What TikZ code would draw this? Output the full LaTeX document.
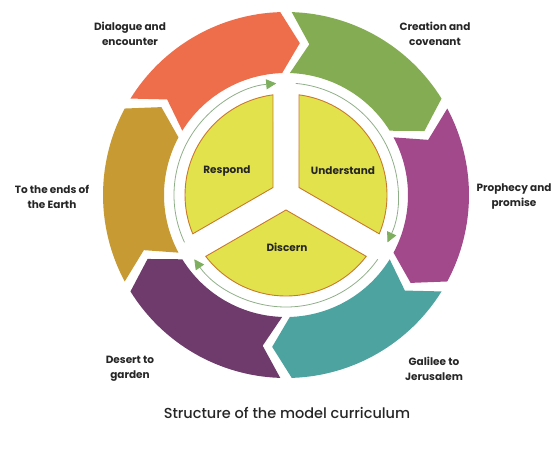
\documentclass[tikz,border=0pt]{standalone}
\usepackage{fontspec}
\setmainfont{Poppins}
\newfontfamily\captionfont{Poppins Medium}
\usetikzlibrary{arrows.meta}
\definecolor{segorange}{HTML}{EE6D4B}
\definecolor{seggreen}{HTML}{84AC52}
\definecolor{segplum}{HTML}{A2498B}
\definecolor{segteal}{HTML}{4CA3A0}
\definecolor{segviolet}{HTML}{6E3B6C}
\definecolor{seggold}{HTML}{C79A33}
\definecolor{pieyellow}{HTML}{E2E34C}
\definecolor{pieedge}{HTML}{C9782C}
\definecolor{cyclegreen}{HTML}{7DAF5E}
\definecolor{cycleline}{HTML}{8FAF88}
\begin{document}
\begin{tikzpicture}[x=1pt, y=1pt,
  lbl/.style={align=center, font=\bfseries\fontsize{10.5}{15}\selectfont, text=black!85},
  sector/.style={fill=pieyellow, draw=pieedge, line width=0.9pt},
  cycarrow/.style={draw=cycleline, line width=0.8pt, -{Triangle[length=10pt, width=10pt, color=cyclegreen, fill=cyclegreen]}}]
\useasboundingbox (-286,-253) rectangle (267,195);
% outer ring of chevrons
\fill[seggreen] (88.2:183) arc[start angle=88.2, end angle=31.8, radius=183] -- (24.8:152.5) -- (31.8:122) arc[start angle=31.8, end angle=88.2, radius=122] -- (81.2:152.5) -- cycle;
\fill[segplum] (28.2:183) arc[start angle=28.2, end angle=-28.2, radius=183] -- (-35.2:152.5) -- (-28.2:122) arc[start angle=-28.2, end angle=28.2, radius=122] -- (21.2:152.5) -- cycle;
\fill[segteal] (-31.8:183) arc[start angle=-31.8, end angle=-88.2, radius=183] -- (-95.2:152.5) -- (-88.2:122) arc[start angle=-88.2, end angle=-31.8, radius=122] -- (-38.8:152.5) -- cycle;
\fill[segviolet] (-91.8:183) arc[start angle=-91.8, end angle=-148.2, radius=183] -- (-155.2:152.5) -- (-148.2:122) arc[start angle=-148.2, end angle=-91.8, radius=122] -- (-98.8:152.5) -- cycle;
\fill[seggold] (-151.8:183) arc[start angle=-151.8, end angle=-208.2, radius=183] -- (-215.2:152.5) -- (-208.2:122) arc[start angle=-208.2, end angle=-151.8, radius=122] -- (-158.8:152.5) -- cycle;
\fill[segorange] (148.2:183) arc[start angle=148.2, end angle=91.8, radius=183] -- (84.8:152.5) -- (91.8:122) arc[start angle=91.8, end angle=148.2, radius=122] -- (141.2:152.5) -- cycle;
% cycle arrows
\draw[cycarrow] (85:112) arc[start angle=85, end angle=-25, radius=112];
\draw[cycarrow] (-35:112) arc[start angle=-35, end angle=-145, radius=112];
\draw[cycarrow] (205:112) arc[start angle=205, end angle=95, radius=112];
% inner pie
\draw[sector] (150:15) -- (97.4:101) arc[start angle=97.4, end angle=202.6, radius=101] -- cycle;
\draw[sector] (30:15) -- (-22.6:101) arc[start angle=-22.6, end angle=82.6, radius=101] -- cycle;
\draw[sector] (270:15) -- (217.4:101) arc[start angle=217.4, end angle=322.6, radius=101] -- cycle;
\node[lbl] (respond) at (-59,24) {Respond};
\node[lbl] (understand) at (57,24) {Understand};
\node[lbl] (discern) at (1,-52) {Discern};
% outer labels
\node[lbl] (dialogue) at (-156,161) {Dialogue and\\encounter};
\node[lbl] (creation) at (149,161) {Creation and\\covenant};
\node[lbl] (prophecy) at (228,-2) {Prophecy and\\promise};
\node[lbl] (galilee) at (148,-174) {Galilee to\\Jerusalem};
\node[lbl] (desert) at (-156,-174) {Desert to\\garden};
\node[lbl] (earth) at (-234,-2) {To the ends of\\the Earth};
\node[font=\captionfont\fontsize{14.5}{16}\selectfont, text=black!85] (caption) at (1,-218) {Structure of the model curriculum};
\end{tikzpicture}
\end{document}
